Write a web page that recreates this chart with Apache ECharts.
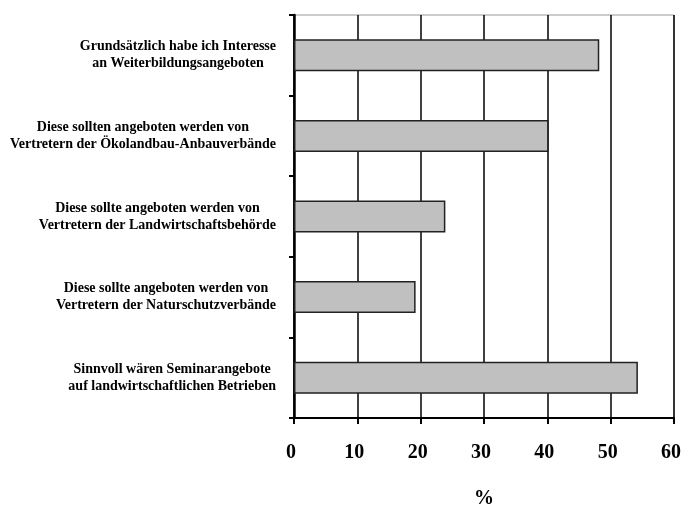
<!DOCTYPE html>
<html>
<head>
<meta charset="utf-8">
<script src="https://cdn.jsdelivr.net/npm/echarts@6/dist/echarts.min.js"></script>
<style>
  html, body { margin: 0; padding: 0; background: #fff; }
  #chart { width: 682px; height: 507px; }
</style>
</head>
<body>
<div id="chart"></div>
<script>
// Aussagen (von oben nach unten)
const categories = [
  ['Grundsätzlich habe ich Interesse', 'an Weiterbildungsangeboten'],
  ['Diese sollten angeboten werden von', 'Vertretern der Ökolandbau-Anbauverbände'],
  ['Diese sollte angeboten werden von', 'Vertretern der Landwirtschaftsbehörde'],
  ['Diese sollte angeboten werden von', 'Vertretern der Naturschutzverbände'],
  ['Sinnvoll wären Seminarangebote', 'auf landwirtschaftlichen Betrieben']
];
const percentValues = [48.2, 40.2, 23.9, 19.2, 54.3];
const axisMin = 0;
const axisMax = 60;
const axisStep = 10;

const serif = '"Liberation Serif", "Times New Roman", serif';

const chart = echarts.init(document.getElementById('chart'));
const option = {
  animation: false,
  grid: {
    left: 294,
    right: 8,
    top: 15,
    bottom: 89,
    outerBoundsMode: 'none',
    show: true,
    borderColor: '#999',
    borderWidth: 1
  },
  xAxis: {
    type: 'value',
    min: axisMin,
    max: axisMax,
    interval: axisStep,
    name: '%',
    nameLocation: 'middle',
    nameGap: 71,
    nameTextStyle: { fontFamily: serif, fontWeight: 'bold', fontSize: 20, color: '#000' },
    axisLine: { show: true, lineStyle: { color: '#000', width: 2 } },
    axisTick: { show: true, length: 6, lineStyle: { color: '#000', width: 2 } },
    axisLabel: {
      fontFamily: serif, fontWeight: 'bold', fontSize: 20, color: '#000',
      margin: 25, padding: [0, 6, 0, 0]
    },
    splitLine: { show: true, lineStyle: { color: '#000', width: 1.5 } }
  },
  yAxis: {
    type: 'category',
    inverse: true,
    data: categories.map(c => c.join('\n')),
    axisLine: { show: true, lineStyle: { color: '#000', width: 2.5 } },
    axisTick: { show: true, length: 5, lineStyle: { color: '#000', width: 2 } },
    axisLabel: {
      margin: 18,
      formatter: function (v) {
        return v.split('\n').map(s => '{c|' + s + '}').join('\n');
      },
      rich: {
        c: { align: 'center', fontFamily: serif, fontWeight: 'bold', fontSize: 14, lineHeight: 17, color: '#000' }
      }
    }
  },
  series: [{
    type: 'bar',
    data: percentValues,
    barWidth: 32,
    itemStyle: { color: '#c0c0c0', borderColor: '#222', borderWidth: 1.5 }
  }]
};
chart.setOption(option);
</script>
</body>
</html>
